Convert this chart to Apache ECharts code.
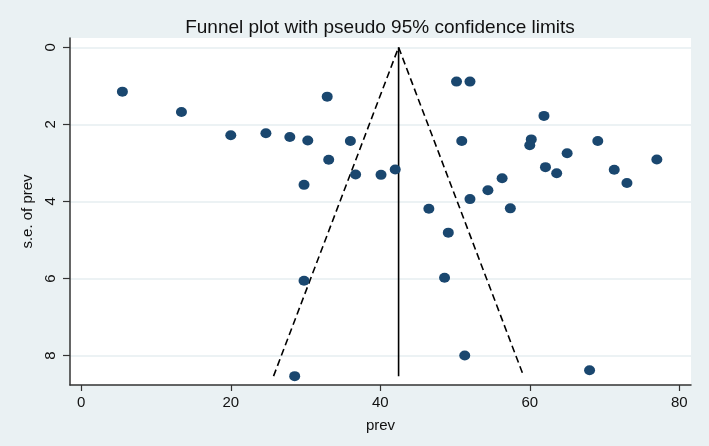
<!DOCTYPE html>
<html>
<head>
<meta charset="utf-8">
<script src="https://cdn.jsdelivr.net/npm/echarts@6/dist/echarts.min.js"></script>
<style>
html,body{margin:0;padding:0;background:#eaf1f3;}
#chart{width:709px;height:446px;}
</style>
</head>
<body>
<div id="chart"></div>
<script>
// Study prevalence estimates (x) and their standard errors (y)
const prevValues = [5.5, 13.4, 20.0, 24.7, 27.9, 30.3, 32.9, 33.1, 29.8, 36.0, 36.7,
  40.1, 42.0, 50.2, 52.0, 50.9, 61.9, 60.2, 60.0, 62.1, 63.6, 65.0, 69.1, 71.3, 73.0, 77.0,
  46.5, 52.0, 54.4, 56.3, 57.4, 49.1, 48.6, 51.3, 68.0, 29.8, 28.55];
const seValues = [1.15, 1.68, 2.28, 2.23, 2.33, 2.42, 1.28, 2.92, 3.57, 2.43, 3.30,
  3.31, 3.17, 0.89, 0.89, 2.43, 1.78, 2.39, 2.54, 3.11, 3.27, 2.75, 2.43, 3.18, 3.52, 2.91,
  4.19, 3.94, 3.71, 3.40, 4.18, 4.81, 5.98, 8.00, 8.38, 6.06, 8.535];
const pooledEstimate = 42.45;
const maxSE = 8.535;
const xTicks = [0, 20, 40, 60, 80];
const yTicks = [0, 2, 4, 6, 8];

const points = prevValues.map((v, i) => [v, seValues[i]]);
const funnel = [
  [pooledEstimate - 1.96 * maxSE, maxSE],
  [pooledEstimate, 0],
  [pooledEstimate + 1.96 * maxSE, maxSE]
];
const centre = [[pooledEstimate, 0], [pooledEstimate, maxSE]];

const FONT = '"Liberation Sans", Arial, sans-serif';
const chart = echarts.init(document.getElementById('chart'));
chart.setOption({
  backgroundColor: '#eaf1f3',
  animation: false,
  title: {
    text: 'Funnel plot with pseudo 95% confidence limits',
    left: 375, top: 13, textAlign: 'center',
    textStyle: {fontFamily: FONT, fontSize: 19, fontWeight: 'normal', color: '#111'}
  },
  grid: {left: 70, right: 18, top: 38, bottom: 61, show: true, backgroundColor: '#ffffff', borderWidth: 0},
  xAxis: {
    type: 'value', min: -1.51, max: 81.57,
    name: 'prev', nameLocation: 'middle', nameGap: 33,
    nameTextStyle: {fontFamily: FONT, fontSize: 15, color: '#111'},
    axisLine: {show: true, onZero: false, lineStyle: {color: '#333', width: 1.5}},
    axisTick: {show: true, length: 6, customValues: xTicks, lineStyle: {color: '#333', width: 1.2}},
    axisLabel: {customValues: xTicks, margin: 10, fontFamily: FONT, fontSize: 15, color: '#111'},
    splitLine: {show: false}
  },
  yAxis: {
    type: 'value', inverse: true, min: -0.242, max: 8.765,
    name: 's.e. of prev', nameLocation: 'middle', nameGap: 28, nameRotate: 90,
    nameTextStyle: {fontFamily: FONT, fontSize: 15, color: '#111'},
    axisLine: {show: true, onZero: false, lineStyle: {color: '#333', width: 1.5}},
    axisTick: {show: true, length: 7, customValues: yTicks, lineStyle: {color: '#333', width: 1.2}},
    axisLabel: {customValues: yTicks, rotate: 90, margin: 12, fontFamily: FONT, fontSize: 15, color: '#111'},
    splitLine: {show: true, lineStyle: {color: '#e6eef0', width: 1.5}}
  },
  series: [
    {
      type: 'line', data: funnel, symbol: 'none', silent: true,
      lineStyle: {color: '#000', width: 1.6, type: [7, 4]}, z: 2
    },
    {
      type: 'line', data: centre, symbol: 'none', silent: true,
      lineStyle: {color: '#000', width: 1.6}, z: 2
    },
    {
      type: 'scatter', data: points, symbol: 'circle', symbolSize: [11, 10],
      itemStyle: {color: '#1a476f', opacity: 1}, z: 3
    }
  ]
});
</script>
</body>
</html>
